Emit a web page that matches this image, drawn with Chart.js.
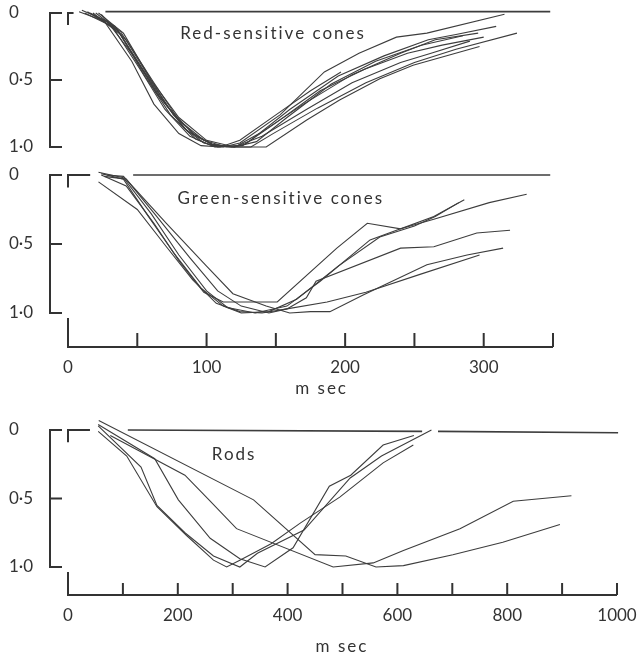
<!DOCTYPE html>
<html>
<head>
<meta charset="utf-8">
<script src="https://cdn.jsdelivr.net/npm/chart.js@4.4.1/dist/chart.umd.min.js"></script>
<style>
  body { margin: 0; background: #fff; }
  #fig { position: relative; width: 638px; height: 658px; }
  #fig canvas { position: absolute; left: 0; }
</style>
</head>
<body>
<div id="fig">
  <canvas id="red" width="638" height="160" style="top:0"></canvas>
  <canvas id="green" width="638" height="250" style="top:160px"></canvas>
  <canvas id="rods" width="638" height="248" style="top:410px"></canvas>
</div>
<script>
// each curve: [time in ms, normalised response] (0 = resting level, 1 = peak)
const redCurves = [
  [[10, -0.02], [28, 0.06], [48, 0.33], [66, 0.62], [84, 0.86], [98, 0.97], [112, 1.0], [124, 0.97], [153, 0.76], [185, 0.44], [210, 0.30], [237, 0.18], [259, 0.15], [315, 0.01]],
  [[16, 0.0], [34, 0.1], [54, 0.42], [72, 0.7], [90, 0.9], [104, 0.98], [118, 1.0], [128, 0.98], [160, 0.72], [195, 0.47], [228, 0.32], [260, 0.2], [280, 0.16], [309, 0.10]],
  [[8, -0.01], [26, 0.06], [46, 0.36], [62, 0.68], [80, 0.9], [96, 0.99], [110, 1.0], [124, 0.95], [150, 0.76], [175, 0.58], [197, 0.44]],
  [[20, 0.0], [38, 0.14], [58, 0.47], [76, 0.76], [94, 0.93], [108, 1.0], [122, 0.99], [138, 0.9], [170, 0.68], [205, 0.46], [240, 0.3], [265, 0.2], [296, 0.15]],
  [[24, 0.01], [42, 0.2], [62, 0.52], [80, 0.8], [98, 0.95], [114, 1.0], [132, 1.0], [148, 0.9], [180, 0.71], [215, 0.52], [250, 0.37], [280, 0.27], [324, 0.15]],
  [[12, 0.0], [32, 0.1], [52, 0.42], [70, 0.72], [88, 0.92], [104, 0.99], [120, 1.0], [140, 0.92], [172, 0.72], [205, 0.52], [240, 0.37], [262, 0.3], [290, 0.21]],
  [[22, 0.0], [40, 0.15], [60, 0.5], [80, 0.78], [100, 0.95], [120, 1.0], [143, 1.0], [172, 0.8], [196, 0.65], [225, 0.49], [249, 0.39], [297, 0.25]],
  [[14, -0.01], [36, 0.13], [56, 0.48], [74, 0.76], [92, 0.94], [106, 1.0], [126, 0.99], [150, 0.82], [182, 0.58], [214, 0.42], [245, 0.3], [270, 0.24], [300, 0.18]],
  [[18, 0.0], [38, 0.16], [64, 0.6], [86, 0.88], [104, 0.98], [120, 1.0], [136, 0.96], [158, 0.78], [190, 0.53], [222, 0.36], [255, 0.24], [285, 0.17]]
];

const greenCurves = [
  [[24, 0.0], [42, 0.08], [62, 0.35], [80, 0.62], [98, 0.85], [112, 0.92], [129, 0.92], [151, 0.92], [194, 0.53], [216, 0.35], [240, 0.39], [264, 0.30], [286, 0.18]],
  [[22, -0.02], [40, 0.02], [60, 0.28], [80, 0.58], [100, 0.84], [115, 0.96], [135, 1.0], [158, 0.95], [182, 0.77], [218, 0.47], [240, 0.39], [264, 0.32], [304, 0.2], [331, 0.14]],
  [[26, 0.01], [42, 0.03], [64, 0.3], [88, 0.6], [108, 0.84], [125, 0.95], [145, 1.0], [158, 0.97], [172, 0.89], [179, 0.77], [240, 0.53], [264, 0.52], [295, 0.42], [319, 0.40]],
  [[28, 0.0], [40, 0.01], [71, 0.35], [100, 0.66], [119, 0.86], [143, 0.95], [160, 1.0], [175, 0.99], [189, 0.99], [213, 0.87], [259, 0.65], [288, 0.58], [314, 0.53]],
  [[22, 0.05], [50, 0.25], [71, 0.52], [90, 0.76], [107, 0.93], [124, 0.99], [140, 1.0], [158, 0.97], [187, 0.92], [215, 0.85], [254, 0.72], [297, 0.58]],
  [[24, -0.01], [40, 0.03], [58, 0.3], [76, 0.56], [96, 0.82], [112, 0.95], [125, 1.0], [145, 0.99], [165, 0.9], [195, 0.66], [225, 0.45], [250, 0.37], [265, 0.3], [282, 0.2]]
];

const rodCurves = [
  [[55, 0.01], [107, 0.19], [162, 0.56], [216, 0.77], [265, 0.95], [289, 1.0], [313, 0.95], [370, 0.83], [423, 0.68], [495, 0.49], [574, 0.24], [629, 0.11]],
  [[55, -0.03], [133, 0.27], [162, 0.55], [213, 0.75], [265, 0.92], [313, 1.0], [345, 0.90], [430, 0.73], [514, 0.35], [571, 0.19], [662, 0.0]],
  [[55, -0.04], [158, 0.21], [201, 0.51], [259, 0.79], [313, 0.94], [359, 1.0], [410, 0.86], [476, 0.41], [515, 0.33], [574, 0.11], [630, 0.04]],
  [[56, -0.07], [338, 0.51], [450, 0.91], [506, 0.92], [561, 1.0], [611, 0.99], [701, 0.91], [792, 0.82], [896, 0.69]],
  [[77, 0.04], [213, 0.33], [259, 0.52], [307, 0.72], [483, 1.0], [556, 0.97], [611, 0.88], [714, 0.72], [811, 0.52], [917, 0.48]]
];

// resting-level lines drawn across the top of each panel
const redBaseline = [[[27, -0.01], [348, -0.01]]];
const greenBaseline = [[[47, 0], [348, 0]]];
const rodBaseline = [[[109, 0], [645, 0.01]], [[674, 0.01], [1002, 0.02]]];

const yTicks = [0, 0.5, 1];
const coneTicks = [0, 100, 200, 300];
const coneMarks = [0, 50, 100, 150, 200, 250, 300, 350];
const rodTicks = [0, 200, 400, 600, 800, 1000];
const rodMarks = [0, 100, 200, 300, 400, 500, 600, 700, 800, 900, 1000];

const ink = '#333';
const FONT = 'Lato, "Open Sans", sans-serif';
Chart.defaults.font.family = FONT;
Chart.defaults.font.size = 17;
Chart.defaults.color = ink;

// axis brackets, corner marks and the text labels, placed through the scales
const frame = {
  id: 'frame',
  afterDraw(chart, args, o) {
    const { ctx, chartArea: a } = chart;
    const px = t => chart.scales.x.getPixelForValue(t);
    const py = v => chart.scales.y.getPixelForValue(v);
    ctx.save();
    ctx.strokeStyle = ink;
    ctx.lineWidth = 2;
    ctx.beginPath();
    ctx.moveTo(a.left, py(0));
    ctx.lineTo(a.left, py(1));
    yTicks.forEach(v => { ctx.moveTo(a.left - 1, py(v)); ctx.lineTo(a.left + 12, py(v)); });
    ctx.moveTo(px(o.corner), py(0));
    ctx.lineTo(px(0), py(0));
    ctx.lineTo(px(0), py(0.09));
    ctx.stroke();

    ctx.fillStyle = ink;
    ctx.font = '17px ' + FONT;
    if ('letterSpacing' in ctx) ctx.letterSpacing = '2px';
    ctx.textBaseline = 'middle';

    if (o.marks) {
      const b = a.bottom;
      ctx.beginPath();
      ctx.moveTo(px(0), py(1) + 5);
      ctx.lineTo(px(0), b);
      ctx.lineTo(px(o.marks[o.marks.length - 1]), b);
      o.marks.forEach(t => { ctx.moveTo(px(t), b); ctx.lineTo(px(t), b - o.tick); });
      ctx.stroke();
      ctx.textAlign = 'center';
      ctx.fillText('m sec', px(o.unitAt), b + o.unitGap);
    }
    ctx.textAlign = 'left';
    ctx.fillText(o.label, px(o.labelAt[0]), py(o.labelAt[1]));
    ctx.restore();
  }
};

function toPoints(c) {
  return c.map(([x, y]) => ({ x, y }));
}

function draw(id, curves, baselines, p) {
  const span = p.one - p.zero;
  const yMin = -(p.zero - p.top) / span;
  const yMax = 1 + (p.bottom - p.one) / span;
  const xAxisH = p.ticks ? 60 : 0;
  const line = (c, w) => ({
    data: toPoints(c), showLine: true, borderColor: '#3d3d3d', borderWidth: w,
    pointRadius: 0, tension: 0, fill: false, clip: false
  });
  const datasets = curves.map(c => line(c, 1.1)).concat(baselines.map(c => line(c, 1.7)));

  new Chart(document.getElementById(id), {
    type: 'scatter',
    data: { datasets },
    options: {
      responsive: false,
      animation: false,
      devicePixelRatio: 1,
      layout: { padding: { left: 9, right: p.right, top: p.top, bottom: p.height - p.bottom - xAxisH } },
      plugins: { legend: { display: false }, tooltip: { enabled: false }, frame: p.frame },
      scales: {
        x: {
          type: 'linear', min: p.xMin, max: p.xMax, display: !!p.ticks,
          grid: { display: false, drawTicks: false }, border: { display: false },
          afterBuildTicks: s => { s.ticks = (p.ticks || []).map(value => ({ value })); },
          afterFit: s => { s.height = xAxisH; s.paddingLeft = 0; s.paddingRight = 0; },
          ticks: { padding: 10, maxRotation: 0, autoSkip: false, callback: v => String(v) }
        },
        y: {
          type: 'linear', min: yMin, max: yMax, reverse: true,
          grid: { display: false, drawTicks: false }, border: { display: false },
          afterBuildTicks: s => { s.ticks = yTicks.map(value => ({ value })); },
          afterFit: s => { s.width = 41; s.paddingTop = 0; s.paddingBottom = 0; },
          ticks: { crossAlign: 'far', padding: 0, callback: v => v === 0 ? '0' : v.toFixed(1).replace('.', '\u00b7') }
        }
      }
    },
    plugins: [frame]
  });
}

// pixel anchors are canvas-relative: 0 and 1.0 rows, plot top/bottom
draw('red', redCurves, redBaseline, {
  height: 160, top: 2, bottom: 155, zero: 13, one: 147,
  xMin: -12.99, xMax: 350, right: 85,
  frame: { corner: 4, label: 'Red-sensitive cones', labelAt: [81, 0.15] }
});

draw('green', greenCurves, greenBaseline, {
  height: 250, top: 4, bottom: 187, zero: 15, one: 153,
  xMin: -12.99, xMax: 350, right: 85, ticks: coneTicks,
  frame: { corner: 16, label: 'Green-sensitive cones', labelAt: [79, 0.167],
           marks: coneMarks, tick: 14, unitAt: 183, unitGap: 42 }
});

draw('rods', rodCurves, rodBaseline, {
  height: 248, top: 6, bottom: 185, zero: 20, one: 157,
  xMin: -32.79, xMax: 1000, right: 21, ticks: rodTicks,
  frame: { corner: 40, label: 'Rods', labelAt: [262, 0.182],
           marks: rodMarks, tick: 12, unitAt: 499, unitGap: 52 }
});
</script>
</body>
</html>
